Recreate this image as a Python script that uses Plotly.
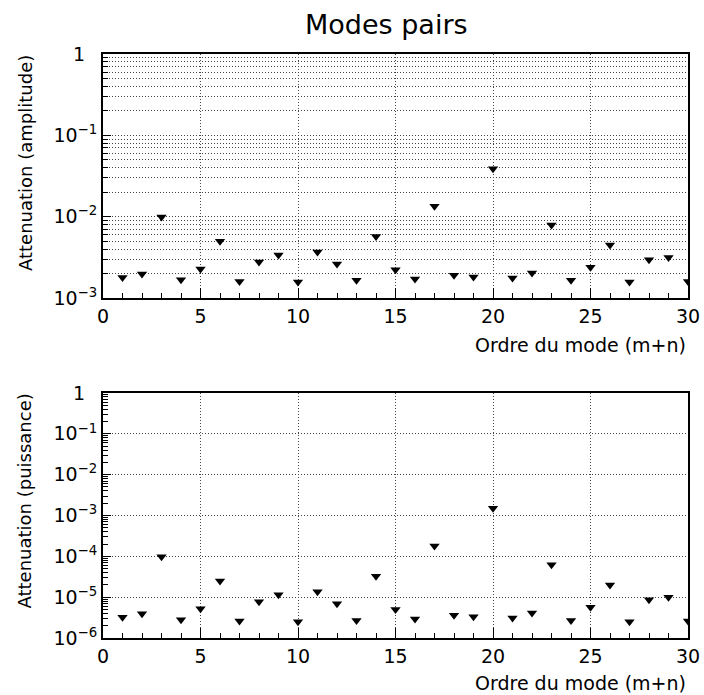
import plotly.graph_objects as go

# Mode order (m+n)
modes = list(range(1, 31))

# Attenuation (amplitude)
att_amplitude = [1.79e-3, 1.97e-3, 9.9e-3, 1.68e-3, 2.27e-3, 5.0e-3, 1.60e-3, 2.77e-3, 3.37e-3, 1.57e-3,
                 3.67e-3, 2.62e-3, 1.65e-3, 5.71e-3, 2.23e-3, 1.71e-3, 1.34e-2, 1.90e-3, 1.81e-3, 3.88e-2,
                 1.76e-3, 2.03e-3, 7.88e-3, 1.65e-3, 2.38e-3, 4.48e-3, 1.57e-3, 2.95e-3, 3.15e-3, 1.60e-3]

# Attenuation (power)
att_puissance = [3.2e-6, 3.9e-6, 9.8e-5, 2.8e-6, 5.2e-6, 2.5e-5, 2.6e-6, 7.7e-6, 1.14e-5, 2.5e-6,
                 1.35e-5, 6.9e-6, 2.7e-6, 3.26e-5, 5.0e-6, 2.9e-6, 1.8e-4, 3.6e-6, 3.3e-6, 1.5e-3,
                 3.1e-6, 4.1e-6, 6.2e-5, 2.7e-6, 5.7e-6, 2.0e-5, 2.5e-6, 8.7e-6, 9.9e-6, 2.6e-6]

x_ticks = [0, 5, 10, 15, 20, 25, 30]
title_text = "Modes pairs"
x_title = "Ordre du mode (m+n)"
y_title_top = "Attenuation (amplitude)"
y_title_bottom = "Attenuation (puissance)"

top_decades = [-3, -2, -1, 0]
bottom_decades = [-6, -5, -4, -3, -2, -1, 0]

FONT = "DejaVu Sans, Liberation Sans, Arial, sans-serif"
GRID = "#444"
GRIDDASH = "1px,2px"


def dec_label(e):
    return "1&nbsp;&nbsp;" if e == 0 else "10<sup>\u2212%d</sup>" % (-e)


def minor_vals(decs):
    vals = []
    for e in decs[:-1]:
        for m in range(2, 10):
            vals.append(m * 10.0 ** e)
    return vals


fig = go.Figure()
fig.add_trace(go.Scatter(x=modes, y=att_amplitude, mode="markers", xaxis="x", yaxis="y",
                         marker=dict(symbol="triangle-down", size=9, color="black"), showlegend=False))
fig.add_trace(go.Scatter(x=modes, y=att_puissance, mode="markers", xaxis="x2", yaxis="y2",
                         marker=dict(symbol="triangle-down", size=9, color="black"), showlegend=False))

xcommon = dict(range=[0, 30], tickmode="array", tickvals=x_ticks, automargin=False,
               ticks="inside", ticklen=10, tickwidth=1, tickcolor="black",
               showline=True, linewidth=2, linecolor="black", mirror=True,
               showgrid=True, gridcolor=GRID, griddash=GRIDDASH, gridwidth=1, zeroline=False,
               tickfont=dict(family=FONT, size=19, color="black"),
               minor=dict(tickmode="array", tickvals=modes, ticks="inside", ticklen=5,
                          tickcolor="black", showgrid=False))

ycommon = dict(type="log", automargin=False, tickmode="array",
               ticks="inside", ticklen=8, tickcolor="black",
               showline=True, linewidth=2, linecolor="black", mirror=True,
               showgrid=True, gridcolor=GRID, griddash=GRIDDASH, gridwidth=1, zeroline=False,
               tickfont=dict(family=FONT, size=19, color="black"))

fig.update_layout(
    width=704, height=695,
    margin=dict(l=103, r=16, t=54, b=57),
    paper_bgcolor="white", plot_bgcolor="white",
    font=dict(family=FONT, color="black"),
    xaxis=dict(domain=[0, 1], anchor="y", **xcommon),
    xaxis2=dict(domain=[0, 1], anchor="y2", **xcommon),
    yaxis=dict(domain=[0.5822, 1], anchor="x", range=[-3, 0],
               tickvals=[10.0 ** e for e in top_decades],
               ticktext=[dec_label(e) for e in top_decades],
               minor=dict(tickmode="array", tickvals=minor_vals(top_decades), ticks="inside",
                          ticklen=5, tickcolor="black", showgrid=True, gridcolor=GRID,
                          griddash=GRIDDASH, gridwidth=1),
               **ycommon),
    yaxis2=dict(domain=[0, 0.4195], anchor="x2", range=[-6, 0],
                tickvals=[10.0 ** e for e in bottom_decades],
                ticktext=[dec_label(e) for e in bottom_decades],
                minor=dict(tickmode="array", tickvals=minor_vals(bottom_decades), ticks="inside",
                           ticklen=5, tickcolor="black", showgrid=False),
                **ycommon),
    annotations=[
        dict(text=title_text, xref="paper", yref="paper", x=0.484, y=1, yshift=30, xanchor="center",
             yanchor="middle", showarrow=False, font=dict(family=FONT, size=27, color="black")),
        dict(text=x_title, xref="paper", yref="paper", x=1, y=0.5822, yshift=-47, xanchor="right",
             yanchor="middle", showarrow=False, font=dict(family=FONT, size=19, color="black")),
        dict(text=x_title, xref="paper", yref="paper", x=1, y=0, yshift=-45, xanchor="right",
             yanchor="middle", showarrow=False, font=dict(family=FONT, size=19, color="black")),
        dict(text=y_title_top, xref="paper", yref="paper", x=0, xshift=-78, y=1, yshift=1,
             xanchor="center", yanchor="top", textangle=-90, showarrow=False,
             font=dict(family=FONT, size=18, color="black")),
        dict(text=y_title_bottom, xref="paper", yref="paper", x=0, xshift=-78, y=0.4195, yshift=1,
             xanchor="center", yanchor="top", textangle=-90, showarrow=False,
             font=dict(family=FONT, size=18, color="black")),
    ],
)

fig.write_html("out.html", config={"displayModeBar": False},
               post_script="document.body.style.margin='0px';")
